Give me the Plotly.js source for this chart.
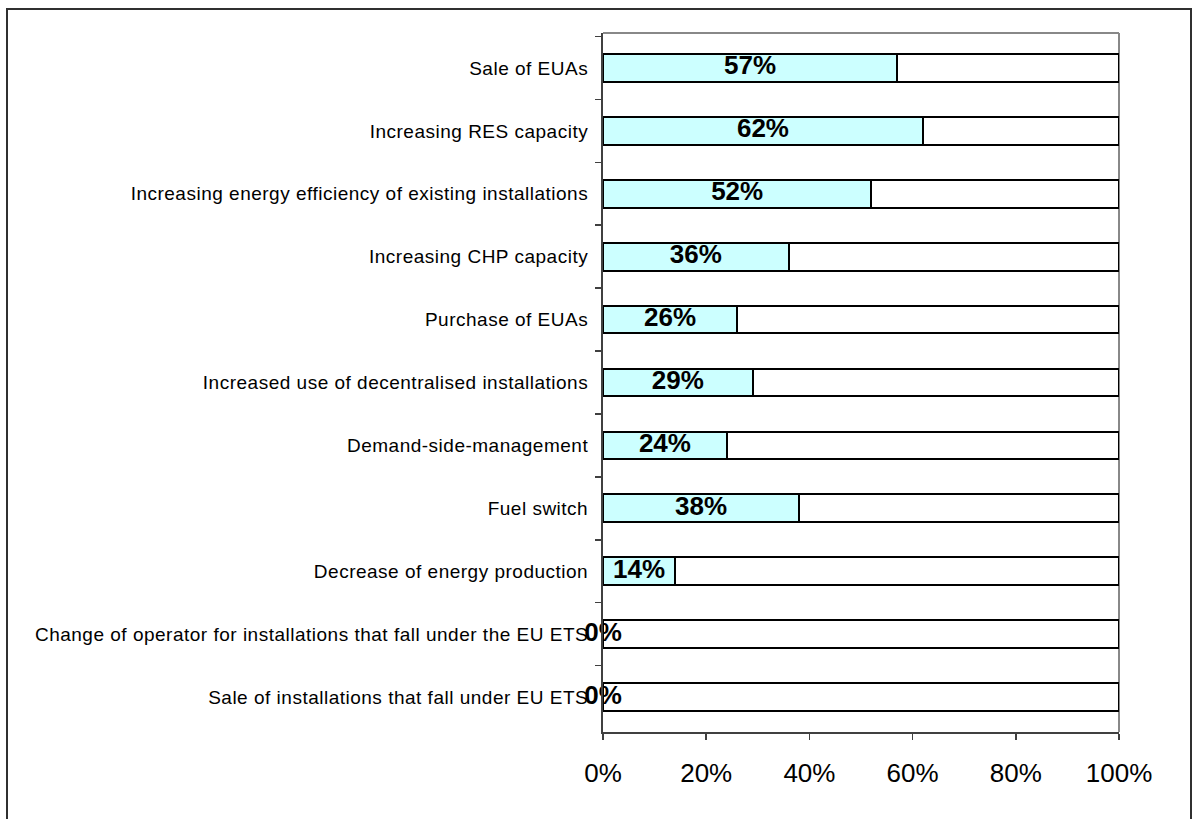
<!DOCTYPE html>
<html>
<head>
<meta charset="utf-8">
<script src="https://cdn.plot.ly/plotly-3.0.1.min.js"></script>
<style>
  html, body { margin: 0; padding: 0; background: #fff; }
  #chart { width: 1192px; height: 819px; }
  /* slightly looser spacing for the category names */
  #chart .ytick text { letter-spacing: 0.5px; }
</style>
</head>
<body>
<div id="chart"></div>
<script>
// Measures listed top to bottom
const categories = [
  "Sale of EUAs",
  "Increasing RES capacity",
  "Increasing energy efficiency of existing installations",
  "Increasing CHP capacity",
  "Purchase of EUAs",
  "Increased use of decentralised installations",
  "Demand-side-management",
  "Fuel switch",
  "Decrease of energy production",
  "Change of operator for installations that fall under the EU ETS",
  "Sale of installations that fall under EU ETS"
];
// Share of respondents choosing each measure (%)
const shares = [57, 62, 52, 36, 26, 29, 24, 38, 14, 0, 0];
const tickValues = [0, 20, 40, 60, 80, 100];
const tickLabels = ["0%", "20%", "40%", "60%", "80%", "100%"];

const remainder = shares.map(v => 100 - v);
const outline = { color: "#000000", width: 2 };

const traces = [
  {
    type: "bar", orientation: "h",
    x: shares, y: categories,
    marker: { color: "#CCFFFF", line: outline },
    hoverinfo: "skip", showlegend: false
  },
  {
    type: "bar", orientation: "h",
    x: remainder, y: categories,
    marker: { color: "#FFFFFF", line: outline },
    hoverinfo: "skip", showlegend: false
  },
  {
    // value labels centred on the filled segment
    type: "scatter", mode: "text",
    x: shares.map(v => v / 2), y: categories,
    text: shares.map(v => v + "%"),
    textposition: "middle center",
    textfont: { family: "Liberation Sans, Arial, sans-serif", size: 26, color: "#000", weight: "bold" },
    cliponaxis: false,
    hoverinfo: "skip", showlegend: false
  }
];

const layout = {
  width: 1192, height: 819,
  margin: { l: 603, r: 73, t: 33, b: 87 },
  paper_bgcolor: "#ffffff", plot_bgcolor: "#ffffff",
  barmode: "stack", bargap: 0.56,
  font: { family: "Liberation Sans, Arial, sans-serif", color: "#000" },
  xaxis: {
    range: [0, 100], fixedrange: true,
    tickvals: tickValues, ticktext: tickLabels,
    tickfont: { size: 26, color: "#000" },
    ticks: "outside", ticklen: 6, tickwidth: 1.5, tickcolor: "#404040",
    ticklabelstandoff: 11,
    showgrid: false, zeroline: false,
    showline: true, linecolor: "#404040", linewidth: 2
  },
  yaxis: {
    type: "category", autorange: "reversed", fixedrange: true,
    tickson: "boundaries",
    ticks: "outside", ticklen: 6, tickwidth: 1.5, tickcolor: "#404040",
    tickfont: { size: 19, color: "#000" },
    ticklabelstandoff: 9,
    showgrid: false, zeroline: false,
    showline: true, linecolor: "#404040", linewidth: 2
  },
  shapes: [
    // outer frame
    { type: "rect", xref: "paper", yref: "paper",
      x0: -596 / 516, x1: 1 + 72 / 516, y0: -88 / 699, y1: 1 + 24 / 699,
      line: { color: "#303030", width: 2 }, fillcolor: "rgba(0,0,0,0)", layer: "below" },
    // plot area top edge
    { type: "line", xref: "paper", yref: "paper", x0: 0, x1: 1, y0: 1, y1: 1,
      line: { color: "#888888", width: 2 }, layer: "below" },
    // plot area right edge
    { type: "line", xref: "paper", yref: "paper", x0: 1, x1: 1, y0: 0, y1: 1,
      line: { color: "#888888", width: 2 }, layer: "below" }
  ]
};

Plotly.newPlot("chart", traces, layout, { displayModeBar: false, staticPlot: true });
</script>
</body>
</html>
